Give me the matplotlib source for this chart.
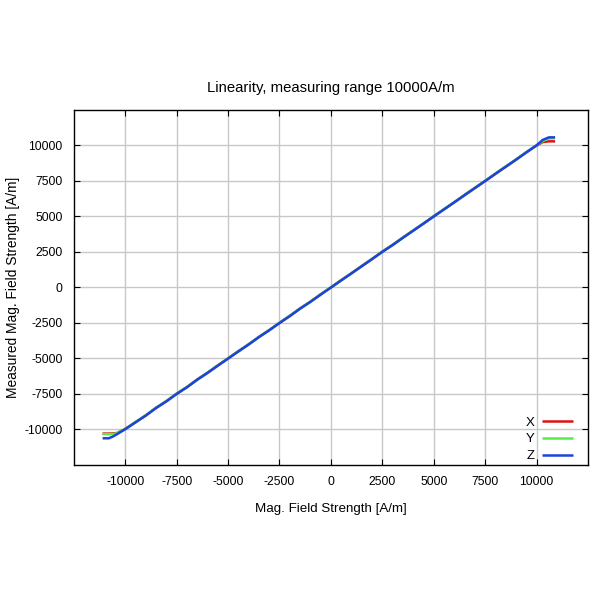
import matplotlib
matplotlib.use("Agg")
import matplotlib.pyplot as plt

plt.rcParams['font.family'] = ['Liberation Sans', 'DejaVu Sans']
plt.rcParams['axes.unicode_minus'] = False

# Applied field strength [A/m]
field = [-11100, -10800, -10600, -10400, -10000, -9500, -9000, -8500, -8000, -7500,
         -7000, -6500, -6000, -5500, -5000, -4500, -4000, -3500, -3000, -2500,
         -2000, -1500, -1000, -500, 0, 500, 1000, 1500, 2000, 2500,
         3000, 3500, 4000, 4500, 5000, 5500, 6000, 6500, 7000, 7500,
         8000, 8500, 9000, 9500, 10000, 10300, 10600, 10900]

# Measured field per axis [A/m]
meas_x = [-10290, -10290, -10280, -10250, -9960, -9480, -9010, -8470, -8010, -7480,
          -7020, -6480, -6010, -5490, -5000, -4490, -4010, -3480, -3010, -2490,
          -2010, -1480, -1010, -490, 0, 510, 990, 1510, 2000, 2520,
          2990, 3510, 4000, 4490, 5010, 5500, 5990, 6510, 7000, 7490,
          8010, 8500, 8990, 9510, 9980, 10230, 10280, 10280]
meas_y = [-10330, -10330, -10320, -10270, -9970, -9490, -9000, -8480, -8000, -7490,
          -7010, -6490, -6000, -5500, -4990, -4500, -4000, -3490, -3000, -2500,
          -2000, -1490, -1000, -500, 10, 500, 1000, 1500, 2010, 2510,
          3000, 3500, 4010, 4500, 5000, 5510, 6000, 6500, 7010, 7500,
          8000, 8510, 9000, 9520, 10000, 10300, 10480, 10500]
meas_z = [-10620, -10620, -10500, -10330, -9980, -9500, -9020, -8490, -8020, -7500,
          -7030, -6500, -6020, -5510, -5010, -4510, -4020, -3500, -3020, -2510,
          -2020, -1500, -1020, -510, -10, 490, 990, 1490, 1990, 2500,
          2980, 3490, 3990, 4490, 4990, 5490, 5990, 6490, 6990, 7490,
          7990, 8490, 8990, 9500, 10000, 10380, 10560, 10560]

series = [("X", meas_x, "#dd1111"), ("Y", meas_y, "#55ee44"), ("Z", meas_z, "#1a44dd")]
ticks = [-10000, -7500, -5000, -2500, 0, 2500, 5000, 7500, 10000]

fig = plt.figure(figsize=(6, 6), dpi=100)
ax = fig.add_axes([0.123, 0.225, 0.857, 0.592])

for name, vals, col in series:
    ax.plot(field, vals, color=col, lw=1.8, label=name, solid_capstyle='butt')

ax.set_xlim(-12500, 12500)
ax.set_ylim(-12500, 12500)
ax.set_xticks(ticks)
ax.set_yticks(ticks)
ax.grid(True, color='#c8c8c8', lw=1)
ax.set_axisbelow(True)
ax.tick_params(direction='in', top=True, right=True, length=4, labelsize=8.7, pad=8)
for s in ax.spines.values():
    s.set_linewidth(1.0)
    s.set_color('black')

ax.set_title("Linearity, measuring range 10000A/m", fontsize=10.7, pad=13)
ax.set_xlabel("Mag. Field Strength [A/m]", fontsize=9.6, labelpad=11)
ax.set_ylabel("Measured Mag. Field Strength [A/m]", fontsize=9.9, labelpad=3)

leg = ax.legend(loc='lower right', bbox_to_anchor=(0.982, -0.007), frameon=False,
                markerfirst=False, fontsize=9.5,
                handlelength=2.4, labelspacing=0.34, borderaxespad=0.0, handletextpad=0.55)

fig.savefig("out.png", dpi=100)
